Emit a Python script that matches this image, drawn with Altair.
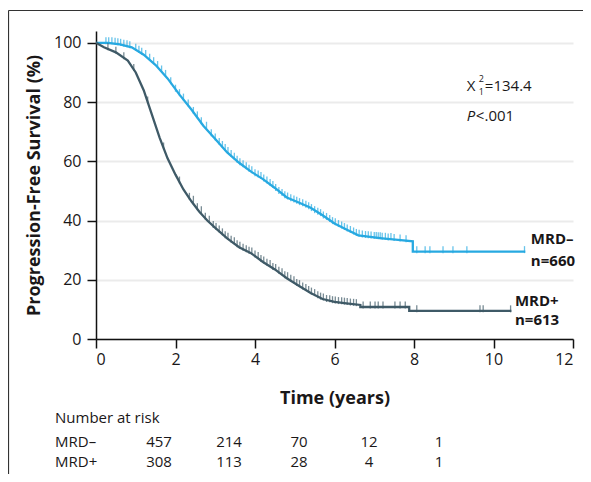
import altair as alt
import pandas as pd

# ---- Kaplan-Meier curves (time in years, PFS %) ----
neg_t = [0, 0.3, 0.6, 0.9, 1.2, 1.5, 1.8, 2.1, 2.4, 2.7, 3.0, 3.3, 3.6, 3.9, 4.2, 4.5, 4.8,
         5.1, 5.4, 5.7, 6.0, 6.3, 6.6, 7.0, 7.2, 7.6, 7.97, 7.97, 10.8]
neg_s = [100, 100, 99.5, 98.5, 96, 92.5, 88, 82.5, 77.5, 72, 67.5, 63, 59.5, 56.5, 54, 51, 47.8,
         46.1, 44.3, 41.8, 39, 37, 35, 34.3, 34, 33.5, 33, 29.5, 29.5]
pos_t = [0, 0.2, 0.5, 0.8, 1.0, 1.2, 1.4, 1.6, 1.8, 2.0, 2.2, 2.4, 2.6, 2.8, 3.0, 3.3, 3.6, 3.9,
         4.2, 4.5, 4.8, 5.1, 5.4, 5.7, 6.0, 6.3, 6.65, 6.65, 7.88, 7.88, 10.45]
pos_s = [100, 98.5, 96.8, 94, 90, 84, 76, 68, 61, 55.5, 50.5, 46.5, 43, 40, 37.5, 34, 31, 29,
         26, 23.5, 20.5, 18, 15.5, 13.5, 12.5, 12, 11.5, 10.8, 10.8, 9.5, 9.5]

# ---- censor marks ----
neg_ct = [0.25, 0.4, 0.55, 0.7, 0.85, 1.0, 1.15, 1.35, 1.55, 1.75, 2.0, 2.2, 2.45, 2.65, 2.9,
          3.1, 3.25, 3.4, 3.55, 3.7, 3.85, 4.0, 4.15, 4.3, 4.45, 4.6, 4.75, 4.9, 5.05, 5.2,
          5.35, 5.5, 5.65, 5.8, 5.95, 6.1, 6.25, 6.4, 6.55, 6.7, 6.85, 7.0, 7.1, 7.2, 7.35,
          7.5, 7.65, 7.8, 8.07, 8.28, 8.4, 8.73, 8.98, 9.33, 10.78,
          0.32, 0.48, 0.62, 0.78, 1.08, 1.25, 1.45, 1.65, 1.88, 2.1, 2.32, 2.55, 2.78, 3.0,
          3.18, 3.32, 3.48, 3.62, 3.78, 3.92, 4.08, 4.22, 4.38, 4.52, 4.68, 4.82, 4.98, 5.12,
          5.28, 5.42, 5.58, 5.72, 5.88, 6.02, 6.18, 6.32, 6.48, 6.62, 6.78, 6.92, 7.05, 7.15,
          7.28, 7.42]
neg_cs = [100, 100, 99.7, 99.2, 98.7, 97.8, 96.5, 94.5, 92, 89, 84, 81, 76.5, 73, 69,
          66, 64, 62, 60, 58.5, 57, 55.5, 54.5, 53, 51.5, 49.5, 48, 47, 46.2, 45.3,
          44.3, 43, 42, 40.7, 39.3, 38.3, 37.3, 36.3, 35.3, 34.8, 34.5, 34.3, 34.2, 34, 33.8,
          33.6, 33.4, 33.2, 29.5, 29.5, 29.5, 29.5, 29.5, 29.5, 29.5,
          100, 99.9, 99.5, 99, 97.2, 95.7, 93.3, 90.5, 86.5, 82.5, 79, 75, 71.5, 67.5,
          65, 63, 61, 59.2, 57.8, 56.5, 55, 53.7, 52.2, 50.5, 48.8, 47.6, 46.6, 45.7,
          44.8, 43.7, 42.5, 41.2, 40, 38.9, 37.8, 36.8, 35.8, 35, 34.6, 34.4, 34.3, 34.2,
          34, 33.9]
pos_ct = [0.3, 0.5, 0.7, 0.95, 1.3, 1.7, 2.1, 2.35, 2.55, 2.75, 2.95, 3.1, 3.25, 3.4, 3.55,
          3.7, 3.85, 4.0, 4.15, 4.3, 4.45, 4.6, 4.75, 4.9, 5.05, 5.2, 5.35, 5.5, 5.65, 5.8,
          5.95, 6.1, 6.25, 6.4, 6.55, 6.72, 6.9, 7.02, 7.1, 7.22, 7.52, 7.65, 7.78, 8.07,
          9.66, 9.74, 10.43,
          2.45, 2.65, 2.85, 3.02, 3.18, 3.32, 3.48, 3.62, 3.78, 3.92, 4.08, 4.22, 4.38, 4.52,
          4.68, 4.82, 4.98, 5.12, 5.28, 5.42, 5.58, 5.72, 5.88, 6.02, 6.18, 6.32, 6.48]
pos_cs = [98, 96.8, 95, 91, 80, 64.5, 53, 47.5, 44, 40.8, 38, 36.5, 34.5, 33, 31.5,
          30.3, 29.3, 28, 26.5, 25.2, 23.8, 22.5, 21, 19.8, 18.4, 17.2, 16, 15, 13.8, 13,
          12.6, 12.3, 12.1, 11.8, 11.6, 10.8, 10.8, 10.8, 10.8, 10.8, 10.8, 10.8, 10.8, 9.5,
          9.5, 9.5, 9.5,
          46.5, 43, 39.8, 37.3, 35.5, 34, 32.5, 31, 29.8, 29, 27.5, 26, 24.8, 23.5,
          22, 20.7, 19.3, 18, 16.7, 15.5, 14.3, 13.5, 12.9, 12.5, 12.2, 12, 11.7]

groups = ["MRD–", "MRD+"]
colors = ["#27a9e1", "#3f5a67"]

# ---- number at risk ----
risk_neg = [457, 214, 70, 12, 1]
risk_pos = [308, 113, 28, 4, 1]

x_ticks = [0, 2, 4, 6, 8, 10, 12]
y_ticks = [0, 20, 40, 60, 80, 100]

FONT = "Open Sans"
TXT = "#1a1718"

curve = pd.DataFrame({
    "t": neg_t + pos_t,
    "s": neg_s + pos_s,
    "g": [groups[0]] * len(neg_t) + [groups[1]] * len(pos_t),
    "i": list(range(len(neg_t))) + list(range(len(pos_t))),
})
cens = pd.DataFrame({
    "t": neg_ct + pos_ct,
    "s": neg_cs + pos_cs,
    "g": [groups[0]] * len(neg_ct) + [groups[1]] * len(pos_ct),
})
risk = pd.DataFrame({
    "col": list(range(5)) * 2,
    "row": [0] * 5 + [1] * 5,
    "n": [str(v) for v in risk_neg + risk_pos],
})

W, H = 477, 308
xs = alt.Scale(domain=[0, 12], nice=False)
ys = alt.Scale(domain=[0, 104], nice=False)
col = alt.Scale(domain=groups, range=colors)

lines = alt.Chart(curve).mark_line(strokeWidth=2.3).encode(
    x=alt.X("t:Q", scale=xs, axis=alt.Axis(values=x_ticks, title="Time (years)", grid=False,
                                           titleFontSize=18, titleFontWeight="bold",
                                           titlePadding=22, labelFontSize=16, labelPadding=3,
                                           tickSize=9)),
    y=alt.Y("s:Q", scale=ys, axis=alt.Axis(values=y_ticks, title="Progression-Free Survival (%)",
                                           grid=True, gridColor="#ebebeb", gridWidth=2,
                                           titleFontSize=18, titleFontWeight="bold",
                                           titlePadding=10, labelFontSize=16, labelPadding=6,
                                           tickSize=9)),
    color=alt.Color("g:N", scale=col, legend=None),
    order=alt.Order("i:Q"),
)

ticks = alt.Chart(cens).mark_tick(orient="vertical", size=7, thickness=1.3, yOffset=-2).encode(
    x=alt.X("t:Q", scale=xs),
    y=alt.Y("s:Q", scale=ys),
    color=alt.Color("g:N", scale=col, legend=None),
)

def label(text, t, s, size=15, weight="normal", style="normal", dx=0, dy=0, align="left"):
    return alt.Chart(pd.DataFrame({"a": [text]})).mark_text(
        font=FONT, fontSize=size, fontWeight=weight, fontStyle=style, color=TXT,
        align=align, baseline="middle", dx=dx, dy=dy,
    ).encode(x=alt.datum(t, scale=xs), y=alt.datum(s, scale=ys), text="a:N")

ann = [
    label("MRD–", 10.94, 33.6, weight="bold"),
    label("n=660", 10.94, 26.4, weight="bold"),
    label("MRD+", 10.54, 12.8, weight="bold"),
    label("n=613", 10.54, 6.3, weight="bold"),
    label("X", 9.33, 85.3),
    label("2", 9.33, 85.3, size=9, dx=12, dy=-7),
    label("1", 9.33, 85.3, size=9, dx=12, dy=6),
    label("=134.4", 9.33, 85.3, dx=18),
    label("P", 9.33, 75.3, style="italic"),
    label("<.001", 9.33, 75.3, dx=9),
]

main = alt.layer(lines, ticks, *ann)

table = alt.Chart(risk).mark_text(font=FONT, fontSize=15, color=TXT, align="center",
                                  baseline="middle").encode(
    x=alt.X("col:Q", scale=alt.Scale(domain=[0, 4], range=[63, 343]), axis=None),
    y=alt.Y("row:Q", scale=alt.Scale(domain=[0, 1], range=[411, 431]), axis=None),
    text="n:N",
)

def pix_text(text, x, y):
    return alt.Chart(pd.DataFrame({"a": [text]})).mark_text(
        font=FONT, fontSize=15, color=TXT, align="left", baseline="middle",
    ).encode(x=alt.value(x), y=alt.value(y), text="a:N")

row_labels = [pix_text("Number at risk", -41, 387), pix_text("MRD–", -41, 411),
              pix_text("MRD+", -41, 431)]

frame_top = alt.Chart(pd.DataFrame({"a": [0]})).mark_rule(color="#333333", strokeWidth=1.2).encode(
    x=alt.value(-87.5), x2=alt.value(W + 12), y=alt.value(-20.5))
frame_left = alt.Chart(pd.DataFrame({"a": [0]})).mark_rule(color="#333333", strokeWidth=1.2).encode(
    x=alt.value(-87.5), y=alt.value(-20.5), y2=alt.value(H + 150))

chart = alt.layer(main, table, *row_labels, frame_top, frame_left).resolve_scale(
    x="independent", y="independent"
).properties(
    width=W, height=H, autosize=alt.AutoSizeParams(type="none"),
    padding={"left": 88, "top": 23, "right": 10, "bottom": 135},
).configure_view(stroke=None).configure_axis(
    labelFont=FONT, titleFont=FONT, labelColor=TXT, titleColor=TXT,
    domainColor="#111111", tickColor="#111111", domainWidth=1.5, tickWidth=1.5,
)

chart.save("out.html", embed_options={"renderer": "svg", "actions": False})
